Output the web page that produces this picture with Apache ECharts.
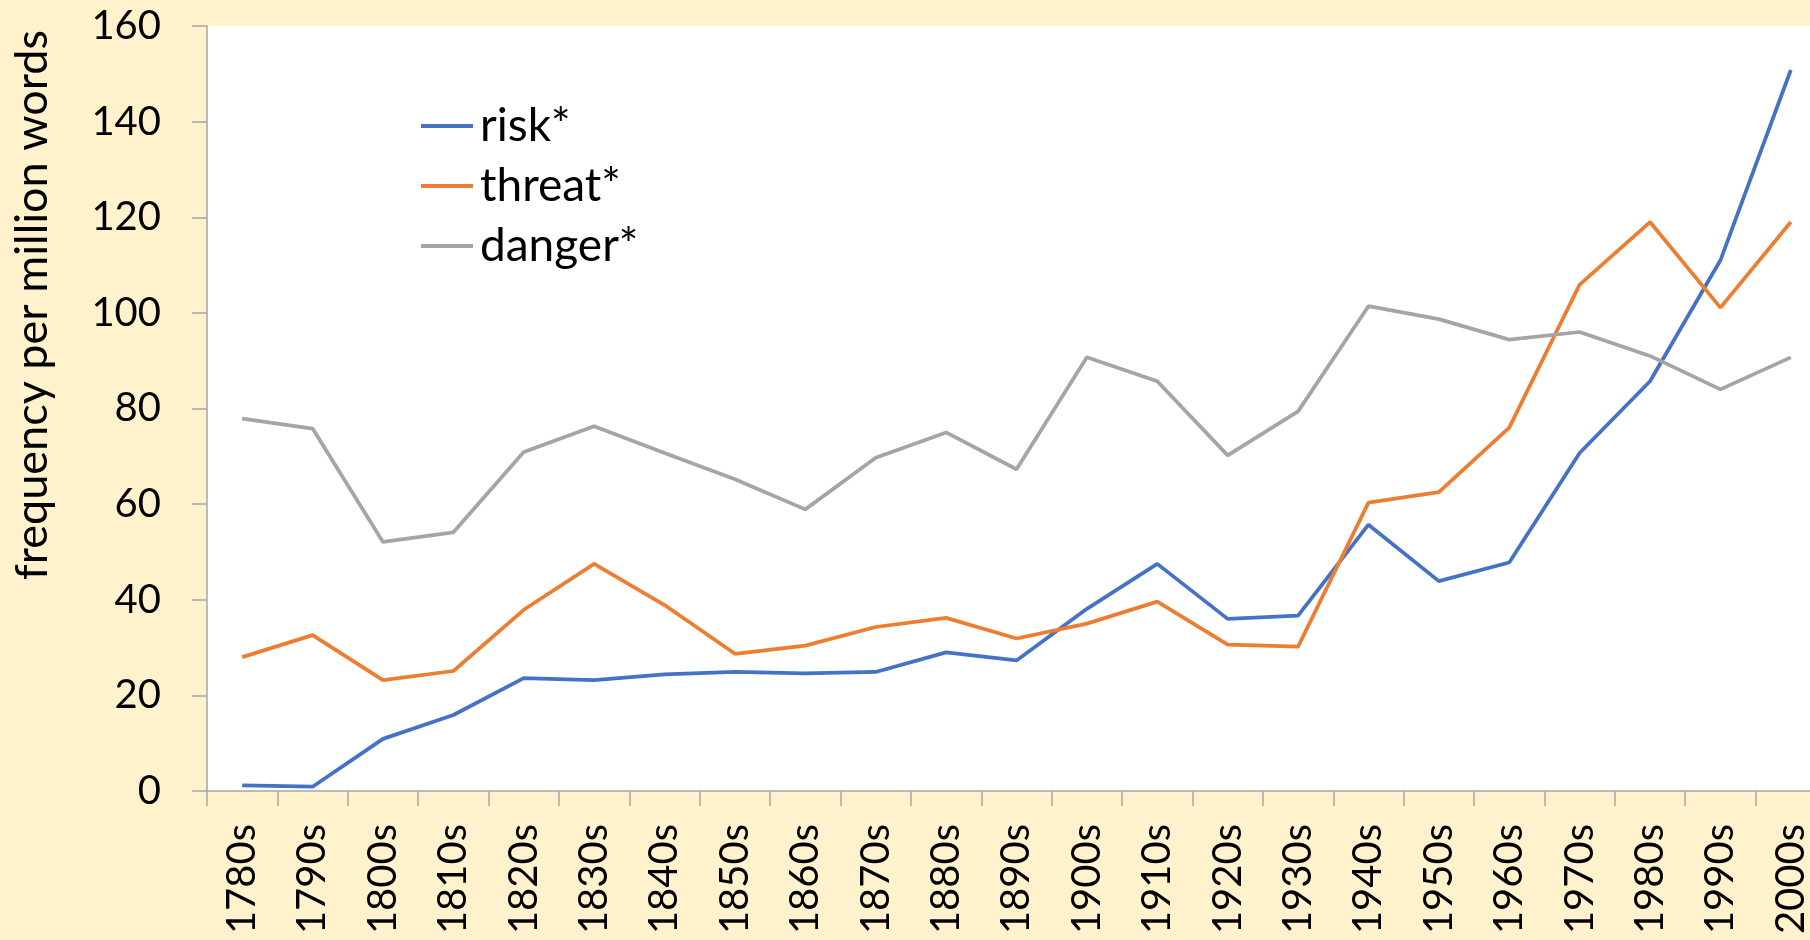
<!DOCTYPE html>
<html>
<head>
<meta charset="utf-8">
<script src="https://cdn.jsdelivr.net/npm/echarts@6/dist/echarts.min.js"></script>
<style>
  html, body { margin: 0; padding: 0; background: #FFF2CC; }
  #chart { width: 1810px; height: 940px; }
</style>
</head>
<body>
<div id="chart"></div>
<script>
var decades = ["1780s", "1790s", "1800s", "1810s", "1820s", "1830s", "1840s", "1850s",
  "1860s", "1870s", "1880s", "1890s", "1900s", "1910s", "1920s", "1930s", "1940s",
  "1950s", "1960s", "1970s", "1980s", "1990s", "2000s"];

var risk = [1.2, 0.9, 10.9, 15.9, 23.6, 23.2, 24.4, 24.9, 24.6, 24.9, 29.0, 27.3,
  38.1, 47.5, 36.0, 36.7, 55.7, 43.9, 47.8, 70.7, 85.7, 111.0, 150.8];

var threat = [28.0, 32.6, 23.2, 25.1, 37.9, 47.5, 38.9, 28.7, 30.4, 34.3, 36.2, 31.9,
  35.0, 39.6, 30.6, 30.2, 60.3, 62.5, 76.0, 105.9, 119.0, 101.1, 119.0];

var danger = [77.9, 75.8, 52.1, 54.1, 70.9, 76.3, 70.7, 65.2, 58.9, 69.7, 75.0, 67.3,
  90.7, 85.7, 70.2, 79.4, 101.4, 98.7, 94.4, 96.0, 91.0, 84.0, 90.7];

var seriesNames = ["risk*", "threat*", "danger*"];
var colors = ["#4472C4", "#ED7D31", "#A5A5A5"];

var myChart = echarts.init(document.getElementById("chart"));

function makeLine(name, data, color) {
  return {
    name: name,
    type: "line",
    data: data,
    symbol: "none",
    lineStyle: { color: color, width: 3.75 },
    itemStyle: { color: color },
  };
}

myChart.setOption({
  backgroundColor: "#FFF2CC",
  textStyle: { fontFamily: "Lato" },
  grid: {
    left: 207,
    top: 26,
    width: 1619,
    height: 765,
    outerBoundsMode: "none",
    show: true,
    backgroundColor: "#ffffff",
    borderWidth: 0,
  },
  legend: {
    orient: "vertical",
    left: 416,
    top: 95,
    itemWidth: 52,
    itemHeight: 4,
    itemGap: 8,
    icon: "rect",
    data: seriesNames,
    textStyle: { fontSize: 46, color: "#000", lineHeight: 52, fontFamily: "Lato", padding: [0, 0, 0, 2] },
  },
  graphic: [
    {
      type: "text",
      x: 32,
      y: 305,
      rotation: Math.PI / 2,
      style: {
        text: "frequency per million words",
        font: "45px Lato",
        fill: "#000",
        align: "center",
        verticalAlign: "middle",
      },
    },
  ],
  xAxis: {
    type: "category",
    data: decades,
    boundaryGap: true,
    axisLine: { lineStyle: { color: "#A6A6A6", width: 1.5 } },
    axisTick: { show: true, length: 15, lineStyle: { color: "#A6A6A6", width: 1.5 } },
    axisLabel: { rotate: 90, margin: 33, fontSize: 40, color: "#000", fontFamily: "Lato" },
    splitLine: { show: false },
  },
  yAxis: {
    type: "value",
    min: 0,
    max: 160,
    interval: 20,
    axisLine: { show: true, lineStyle: { color: "#A6A6A6", width: 1.5 } },
    axisTick: { show: true, length: 15, lineStyle: { color: "#A6A6A6", width: 1.5 } },
    axisLabel: { margin: 46, fontSize: 40, color: "#000", fontFamily: "Lato" },
    splitLine: { show: false },
  },
  series: [
    makeLine(seriesNames[0], risk, colors[0]),
    makeLine(seriesNames[1], threat, colors[1]),
    makeLine(seriesNames[2], danger, colors[2]),
  ],
});
</script>
</body>
</html>
